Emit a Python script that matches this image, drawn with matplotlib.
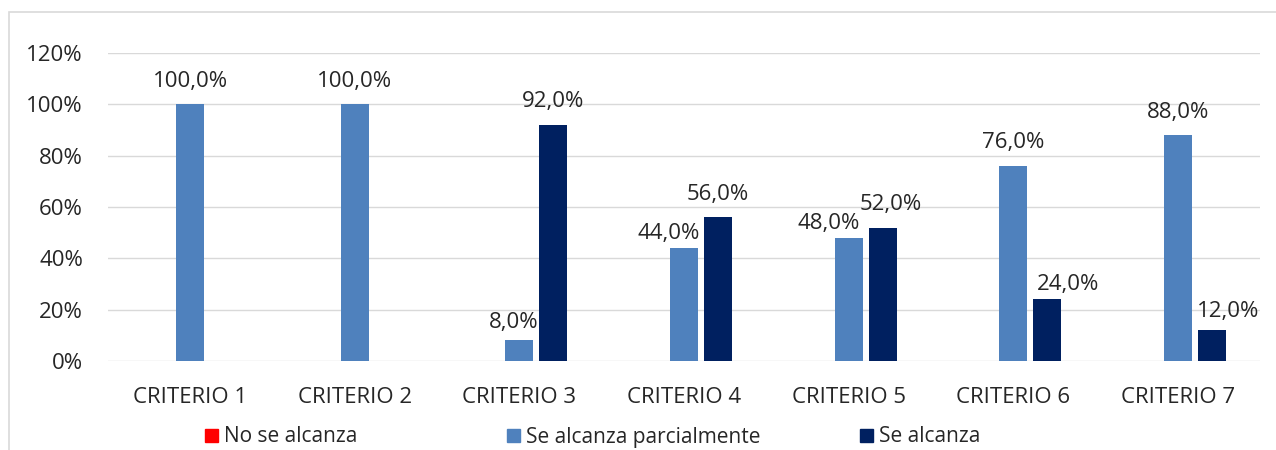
import matplotlib.pyplot as plt
import numpy as np
from matplotlib.patches import Patch, Rectangle

plt.rcParams["font.family"] = ["Open Sans", "DejaVu Sans"]

criterios = ["CRITERIO 1", "CRITERIO 2", "CRITERIO 3", "CRITERIO 4",
             "CRITERIO 5", "CRITERIO 6", "CRITERIO 7"]
no_alcanza = [0, 0, 0, 0, 0, 0, 0]
parcial = [100, 100, 8, 44, 48, 76, 88]
alcanza = [0, 0, 92, 56, 52, 24, 12]

series = [
    ("No se alcanza", no_alcanza, "#FF0000"),
    ("Se alcanza parcialmente", parcial, "#4F81BD"),
    ("Se alcanza", alcanza, "#002060"),
]

# hand-nudged data labels (series index, category index) -> (dx, dy) in points
nudges = {
    (1, 2): (-4, -4),
    (1, 3): (-11, -6),
    (1, 4): (-14, -6),
    (2, 4): (6, 0),
    (2, 5): (15, -6),
    (2, 6): (12, -3),
}

text_col = "#262626"
fig = plt.figure(figsize=(12.76, 4.5), dpi=100)
ax = fig.add_axes([0.0846, 0.198, 0.9029, 0.684])

# chart frame (left and top edges visible)
fig.patches.append(Rectangle((9 / 1276, -0.1), 1.2, 1 - 12 / 450 + 0.1,
                             transform=fig.transFigure, fill=False,
                             edgecolor="#d9d9d9", linewidth=1.2))

x = np.arange(len(criterios))
width = 0.17
step = 0.207
for i, (name, vals, col) in enumerate(series):
    pos = x + (i - 1) * step
    ax.bar(pos, [v / 100 for v in vals], width, color=col, zorder=3)
    for j, v in enumerate(vals):
        if v == 0:
            continue
        dx, dy = nudges.get((i, j), (0, 0))
        ax.annotate(f"{v:.1f}%".replace(".", ","), (pos[j], v / 100),
                    xytext=(dx, 9 + dy), textcoords="offset points",
                    ha="center", va="bottom", fontsize=16, color=text_col)

ax.set_xlim(-0.5, len(criterios) - 0.5)
ax.set_ylim(0, 1.2)
ax.set_yticks(np.arange(0, 1.21, 0.2))
ax.set_yticklabels([f"{int(round(t * 100))}%" for t in np.arange(0, 1.21, 0.2)])
ax.set_xticks(x)
ax.set_xticklabels(criterios)
ax.tick_params(axis="both", length=0, labelsize=16, labelcolor=text_col)
ax.tick_params(axis="x", pad=19)
ax.tick_params(axis="y", pad=18)
ax.grid(axis="y", color="#d9d9d9", linewidth=1, zorder=0)
for s in ax.spines.values():
    s.set_visible(False)

# legend entries spread along the bottom
legend_x = [195, 497, 850]
for (name, vals, col), lx in zip(series, legend_x):
    leg = fig.legend(handles=[Patch(color=col, label=name)],
                     loc="center left", bbox_to_anchor=(lx / 1276, 1 - 437 / 450),
                     frameon=False, fontsize=15, handlelength=0.6,
                     handleheight=0.6, handletextpad=0.3, borderpad=0,
                     labelcolor=text_col)

fig.savefig("out.png", dpi=100)
